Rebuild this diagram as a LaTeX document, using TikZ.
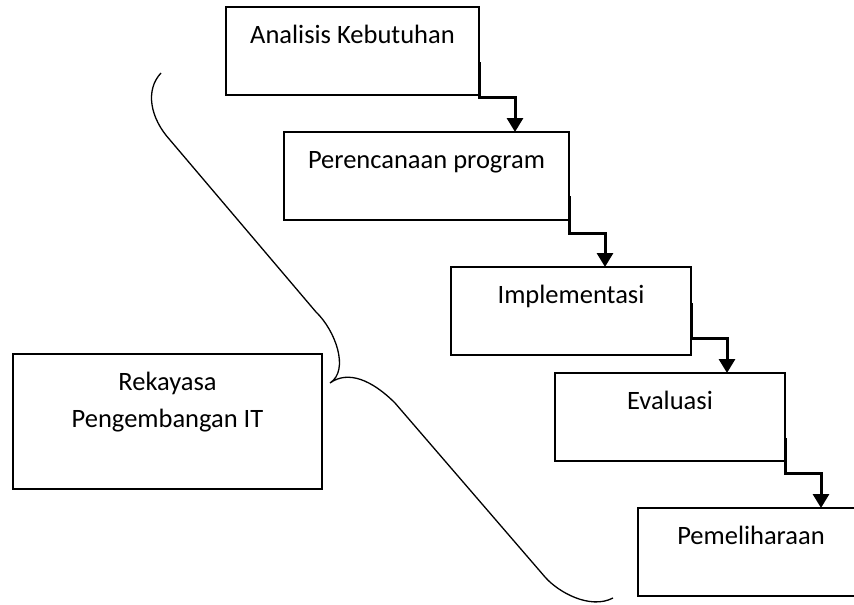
\documentclass[tikz,border=0pt]{standalone}
\usepackage{fontspec}
\setmainfont{Carlito}
\usetikzlibrary{positioning,arrows.meta}

\begin{document}
\begin{tikzpicture}[x=1pt, y=-1pt, box/.style={draw, line width=1.8pt, inner sep=0pt, outer sep=0pt, anchor=north west, text height=36pt, text depth=52pt, align=center, font=\fontsize{26.5}{37}\selectfont}, flow/.style={-{Triangle[length=14pt,width=16pt]}, line width=3pt}]
\useasboundingbox (0,0) rectangle (854,605);
\node[box, minimum width=253pt] (an) at (226,7) {Analisis Kebutuhan};
\node[box, minimum width=285pt, below right=37pt and 58pt of an.south west] (pp) {Perencanaan program};
\node[box, minimum width=240pt, below right=47pt and 167pt of pp.south west] (im) {Implementasi};
\node[box, minimum width=230pt, below right=18pt and 104pt of im.south west] (ev) {Evaluasi};
\node[box, minimum width=226pt, below right=47pt and 83pt of ev.south west] (pm) {Pemeliharaan};
\node[box, minimum width=309pt, text height=73pt, text depth=62pt] (rk) at (13,354) {Rekayasa\\Pengembangan IT};

\foreach \a/\b/\s/\d in {an/pp/55/-2, pp/im/64/-13, im/ev/36/17, ev/pm/65/-12}
  \draw[flow] ([yshift=-\s pt]\a.north east) -- ([yshift=\d pt]\a.south east) -| ([xshift=36pt]\a.south east |- \b.north);
% brace
\draw[line width=1.3pt] (161,73) .. controls (145,90) and (150,118) .. (170,140) -- (316,312)
  .. controls (335,330) and (350,370) .. (330,383)
  .. controls (348,370) and (372,380) .. (395,403) -- (545,577)
  .. controls (558,592) and (590,610) .. (613,598);
\end{tikzpicture}
\end{document}
